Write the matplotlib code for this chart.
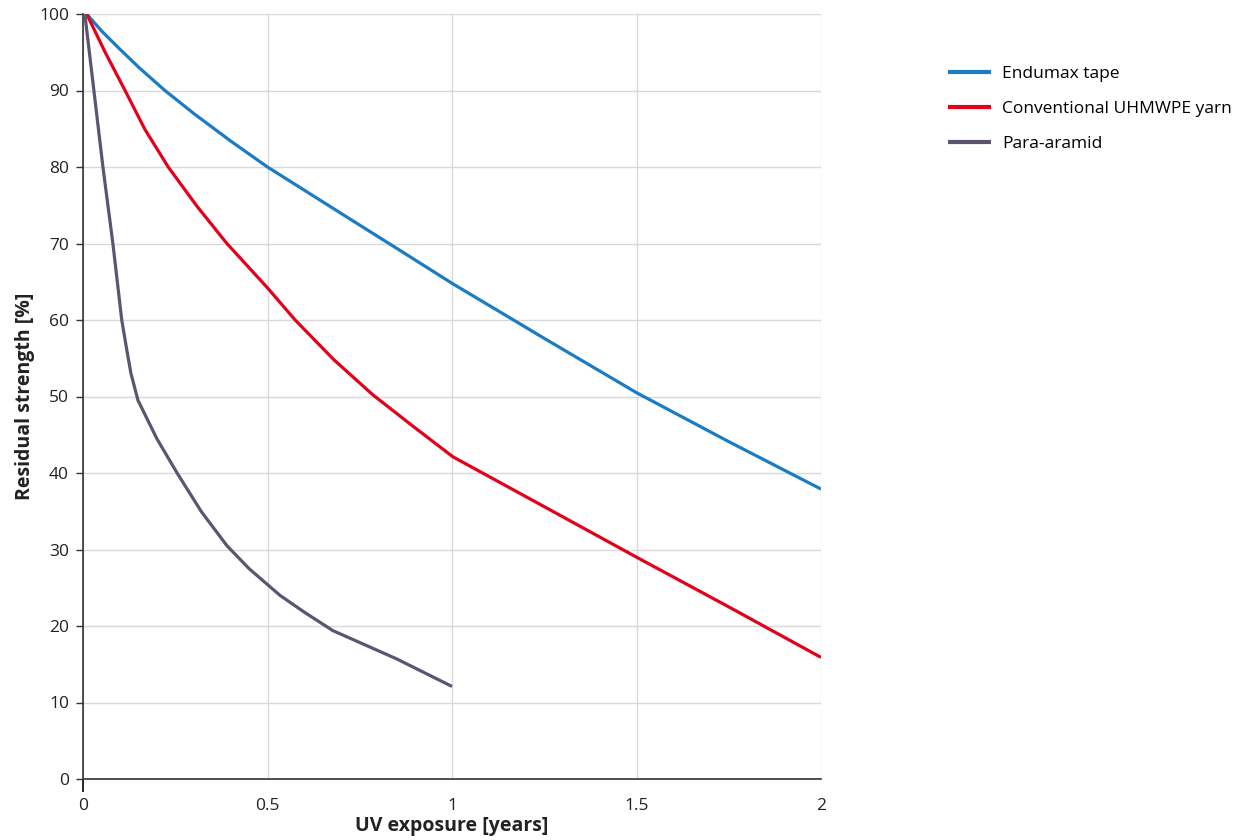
import matplotlib
matplotlib.use("Agg")
import matplotlib.pyplot as plt

plt.rcParams['font.family'] = ['Open Sans', 'DejaVu Sans']

# Data
endumax_x = [0.01, 0.05, 0.1, 0.154, 0.222, 0.3, 0.4, 0.5, 0.75, 0.859, 1.0, 1.25, 1.5, 1.75, 2.0]
endumax_y = [100, 97.8, 95.4, 92.9, 90, 87.0, 83.4, 80, 72.4, 69.1, 64.8, 57.6, 50.5, 44.1, 37.9]

uhmwpe_x = [0.01, 0.06, 0.114, 0.168, 0.231, 0.31, 0.39, 0.5, 0.575, 0.68, 0.786, 0.9, 1.003, 1.25, 1.5, 1.75, 2.0]
uhmwpe_y = [100, 95.0, 90, 84.9, 80, 74.8, 70, 64.2, 60, 54.8, 50.2, 45.9, 42.1, 35.6, 29, 22.5, 15.9]

aramid_x = [0.005, 0.054, 0.081, 0.105, 0.119, 0.13, 0.149, 0.2, 0.255, 0.32, 0.39, 0.45, 0.534, 0.6, 0.677, 0.85, 1.0]
aramid_y = [100, 80, 70, 60, 56, 53, 49.5, 44.5, 40, 35, 30.5, 27.5, 24, 21.8, 19.4, 15.7, 12.1]

series_labels = ['Endumax tape', 'Conventional UHMWPE yarn', 'Para-aramid']
x_ticks = [0, 0.5, 1, 1.5, 2]
x_tick_labels = ['0', '0.5', '1', '1.5', '2']
y_ticks = [0, 10, 20, 30, 40, 50, 60, 70, 80, 90, 100]

fig = plt.figure(figsize=(12.44, 8.4), dpi=100)
ax = fig.add_axes([83/1244, 61/840, (821-83)/1244, (779-14)/840])

colors = ['#1b7cc4', '#e2001a', '#5e5370']
for xs, ys, lab, c in zip([endumax_x, uhmwpe_x, aramid_x], [endumax_y, uhmwpe_y, aramid_y], series_labels, colors):
    ax.plot(xs, ys, color=c, lw=2.3, label=lab, solid_joinstyle='round', solid_capstyle='butt', zorder=3)

ax.set_xlim(0, 2)
ax.set_ylim(0, 100)
ax.set_xticks(x_ticks)
ax.set_xticklabels(x_tick_labels)
ax.set_yticks(y_ticks)

ax.grid(True, color='#d9d9d9', lw=1.0, zorder=0)
ax.set_axisbelow(True)
for s in ['top', 'right']:
    ax.spines[s].set_visible(False)
for s in ['left', 'bottom']:
    ax.spines[s].set_color('#333333')
    ax.spines[s].set_linewidth(1.2)

ax.tick_params(axis='y', length=5, width=1, color='#333333', labelsize=12.5, pad=5, labelcolor='#222222')
ax.tick_params(axis='x', length=0, labelsize=12.5, pad=14, labelcolor='#222222')
t0 = ax.xaxis.get_major_ticks()[0]
t0.tick1line.set_markersize(9)
t0.tick1line.set_markeredgewidth(1.2)
t0.tick1line.set_color('#333333')
t0.tick1line.set_visible(True)

ax.set_xlabel('UV exposure [years]', fontsize=14, fontweight='bold', labelpad=1, color='#222222')
ax.set_ylabel('Residual strength [%]', fontsize=14, fontweight='bold', labelpad=3, color='#222222')

leg = fig.legend(loc='upper left', bbox_to_anchor=(932/1244, 1 - 50/840), frameon=False,
                 fontsize=12.5, handlelength=2.5, handletextpad=0.65, labelspacing=1.1)
for line in leg.get_lines():
    line.set_linewidth(3.0)

fig.savefig('out.png', dpi=100)
